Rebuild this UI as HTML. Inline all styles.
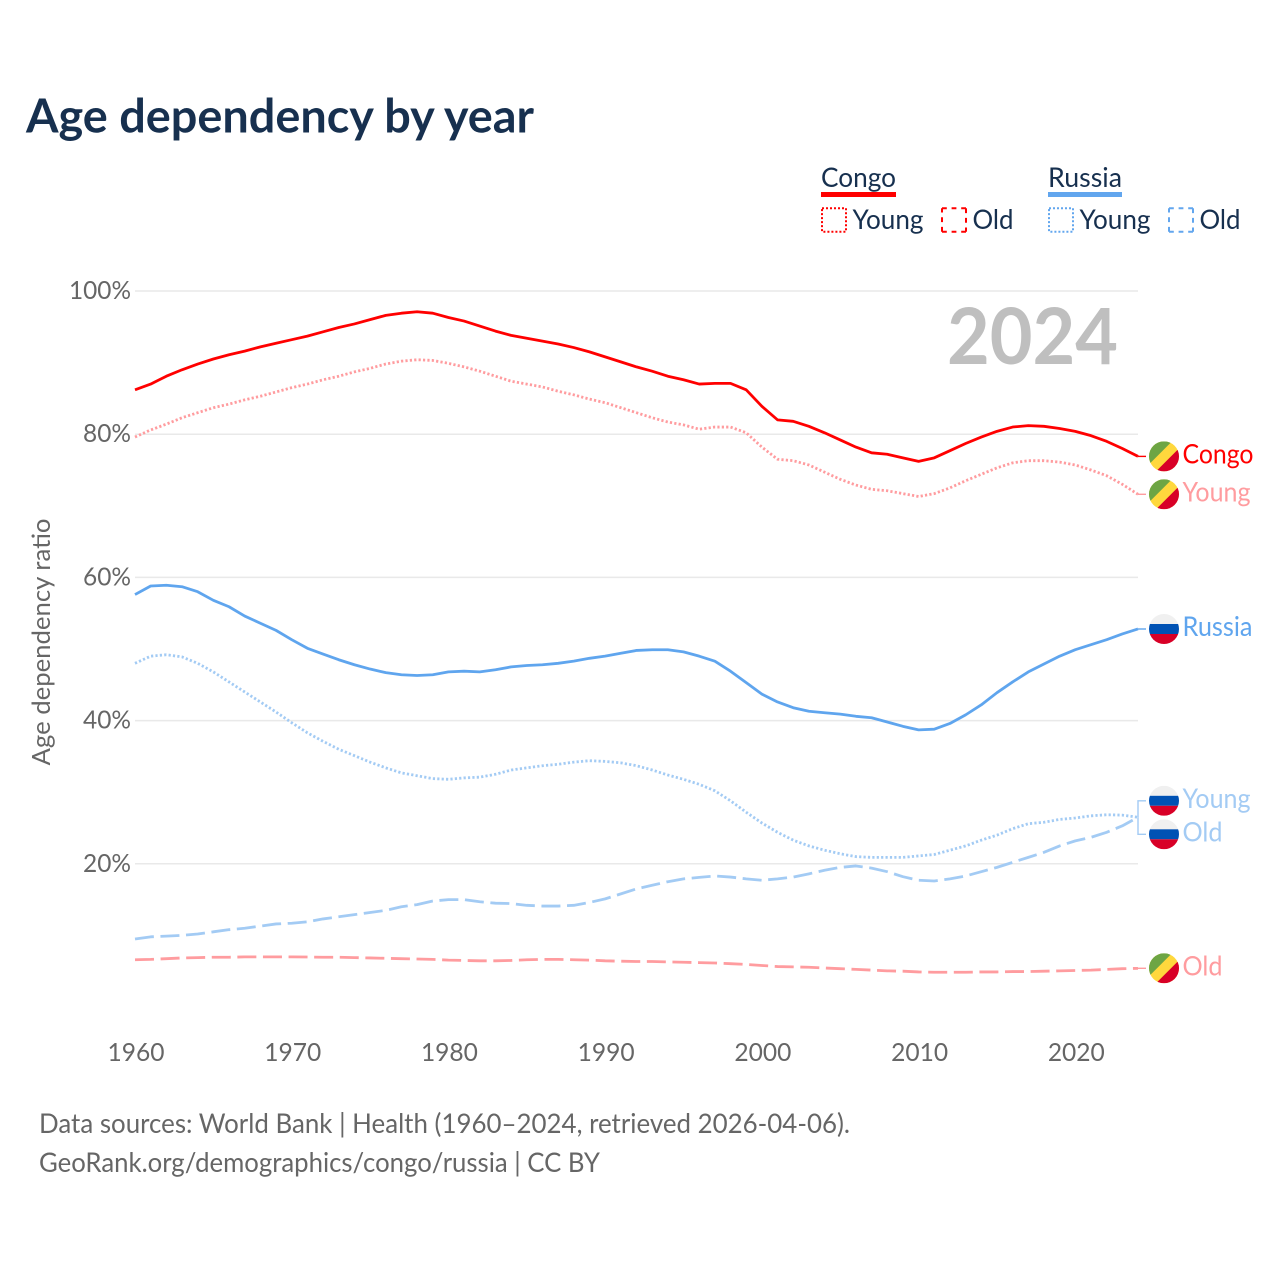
<!DOCTYPE html>
<html lang="en">
<head>
<meta charset="utf-8">
<title>Age dependency by year</title>
<style>
html,body{margin:0;padding:0;background:#fff;width:1280px;height:1280px;overflow:hidden}
svg{display:block}
text{font-family:"Lato","Carlito","Liberation Sans",sans-serif}
</style>
</head>
<body>
<svg id="chart" xmlns="http://www.w3.org/2000/svg" width="1280" height="1280" viewBox="0 0 1280 1280">
  <defs>
    <clipPath id="flag-clip"><circle cx="0" cy="0" r="15"/></clipPath>
    <g id="flag-cg" clip-path="url(#flag-clip)">
      <rect x="-15" y="-15" width="30" height="30" fill="#ffd83d"/>
      <polygon points="-15,-15 8,-15 -15,8" fill="#6da544"/>
      <polygon points="15,15 -8,15 15,-8" fill="#d80027"/>
    </g>
    <g id="flag-ru" clip-path="url(#flag-clip)">
      <rect x="-15" y="-15" width="30" height="10" fill="#f0f0f0"/>
      <rect x="-15" y="-5" width="30" height="10" fill="#0052b4"/>
      <rect x="-15" y="5" width="30" height="10" fill="#d80027"/>
    </g>
  </defs>

  <text x="26" y="132.3" font-size="47" font-weight="700" fill="#17304f" textLength="508" lengthAdjust="spacingAndGlyphs">Age dependency by year</text>

  <g>
    <text x="821" y="187" font-size="27" fill="#17304f" textLength="75" lengthAdjust="spacingAndGlyphs">Congo</text>
    <rect x="821" y="192" width="75" height="5" fill="#ff0000"/>
    <rect x="822" y="208.3" width="24" height="23.4" fill="none" stroke="#ff0000" stroke-width="2" stroke-dasharray="2 2"/>
    <text x="852.5" y="229" font-size="27" fill="#17304f" textLength="71" lengthAdjust="spacingAndGlyphs">Young</text>
    <path d="M942 208.3h24 M966 208.3v23.4 M966 231.7h-24 M942 231.7v-23.4" fill="none" stroke="#ff0000" stroke-width="2" stroke-dasharray="4.8 4.8"/>
    <text x="972.5" y="229" font-size="27" fill="#17304f" textLength="41" lengthAdjust="spacingAndGlyphs">Old</text>

    <text x="1048" y="187" font-size="27" fill="#17304f" textLength="74" lengthAdjust="spacingAndGlyphs">Russia</text>
    <rect x="1048" y="192" width="74" height="5" fill="#62a6ee"/>
    <rect x="1049" y="208.3" width="24" height="23.4" fill="none" stroke="#62a6ee" stroke-width="2" stroke-dasharray="2 2"/>
    <text x="1079.5" y="229" font-size="27" fill="#17304f" textLength="71" lengthAdjust="spacingAndGlyphs">Young</text>
    <path d="M1169 208.3h24 M1193 208.3v23.4 M1193 231.7h-24 M1169 231.7v-23.4" fill="none" stroke="#62a6ee" stroke-width="2" stroke-dasharray="4.8 4.8"/>
    <text x="1199.5" y="229" font-size="27" fill="#17304f" textLength="41" lengthAdjust="spacingAndGlyphs">Old</text>
  </g>

  <text transform="translate(50,642) rotate(-90)" text-anchor="middle" font-size="25" fill="#666666" textLength="247" lengthAdjust="spacingAndGlyphs">Age dependency ratio</text>

  <g id="grid"></g>
  <text x="947" y="364" font-size="78" font-weight="700" fill="#bfbfbf" textLength="171" lengthAdjust="spacingAndGlyphs">2024</text>
  <g id="marks"></g>
  <g id="end-labels"></g>

  <text x="39" y="1133" font-size="27" fill="#666666" textLength="811" lengthAdjust="spacingAndGlyphs">Data sources: World Bank | Health (1960–2024, retrieved 2026-04-06).</text>
  <text x="39" y="1172" font-size="27" fill="#666666" textLength="561" lengthAdjust="spacingAndGlyphs">GeoRank.org/demographics/congo/russia | CC BY</text>
</svg>

<script>
const startYear = 1960;
const endYear = 2024;
const yTickValues = [20, 40, 60, 80, 100];
const yTickLabels = ['20%', '40%', '60%', '80%', '100%'];
const xTickYears = [1960, 1970, 1980, 1990, 2000, 2010, 2020];
const xTickLabels = ['1960', '1970', '1980', '1990', '2000', '2010', '2020'];

const congoTotal = [86.2,87.0,88.1,89.0,89.8,90.5,91.1,91.6,92.2,92.7,93.2,93.7,94.3,94.9,95.4,96.0,96.6,96.9,97.1,96.9,96.3,95.8,95.1,94.4,93.8,93.4,93.0,92.6,92.1,91.5,90.8,90.1,89.4,88.8,88.1,87.6,87.0,87.1,87.1,86.2,83.9,82.0,81.8,81.1,80.2,79.2,78.2,77.4,77.2,76.7,76.2,76.7,77.7,78.7,79.6,80.4,81.0,81.2,81.1,80.8,80.4,79.8,79.0,78.0,76.9];
const congoYoung = [79.6,80.6,81.4,82.3,83.0,83.7,84.2,84.8,85.3,85.9,86.5,87.0,87.6,88.1,88.7,89.2,89.8,90.2,90.4,90.3,89.9,89.4,88.8,88.1,87.4,87.0,86.6,86.0,85.5,84.9,84.4,83.7,83.0,82.3,81.7,81.3,80.7,81.0,81.0,80.2,78.2,76.5,76.3,75.7,74.7,73.7,72.9,72.3,72.1,71.7,71.3,71.7,72.5,73.5,74.4,75.3,76.0,76.3,76.3,76.1,75.7,75.0,74.2,73.0,71.6];
const congoOld = [6.6,6.65,6.75,6.85,6.9,6.95,6.95,7.0,7.0,7.0,7.0,6.98,6.95,6.95,6.9,6.85,6.8,6.75,6.7,6.65,6.55,6.5,6.45,6.45,6.5,6.6,6.65,6.65,6.6,6.55,6.45,6.4,6.35,6.35,6.3,6.25,6.2,6.15,6.05,5.95,5.8,5.65,5.6,5.55,5.45,5.35,5.25,5.15,5.05,5.0,4.9,4.85,4.85,4.85,4.9,4.9,4.95,4.95,5.0,5.05,5.1,5.15,5.25,5.35,5.4];
const russiaTotal = [57.6,58.8,58.9,58.7,58.0,56.8,55.9,54.6,53.6,52.6,51.3,50.1,49.3,48.5,47.8,47.2,46.7,46.4,46.3,46.4,46.8,46.9,46.8,47.1,47.5,47.7,47.8,48.0,48.3,48.7,49.0,49.4,49.8,49.9,49.9,49.6,49.0,48.3,46.9,45.3,43.7,42.6,41.8,41.3,41.1,40.9,40.6,40.4,39.8,39.2,38.7,38.8,39.6,40.8,42.2,43.9,45.4,46.8,47.9,49.0,49.9,50.6,51.3,52.1,52.8];
const russiaYoung = [48.0,49.0,49.2,48.9,48.0,46.8,45.4,44.0,42.6,41.2,39.7,38.3,37.1,36.0,35.1,34.2,33.4,32.7,32.3,31.9,31.8,32.0,32.1,32.5,33.1,33.4,33.7,33.9,34.2,34.4,34.3,34.1,33.7,33.1,32.4,31.8,31.1,30.2,28.8,27.2,25.7,24.4,23.3,22.5,21.9,21.4,21.0,20.9,20.9,20.9,21.1,21.3,21.9,22.5,23.3,24.0,24.9,25.6,25.8,26.2,26.4,26.7,26.85,26.8,26.5];
const russiaOld = [9.5,9.8,9.9,10.0,10.2,10.5,10.8,11.0,11.3,11.6,11.7,11.9,12.3,12.6,12.9,13.2,13.5,14.0,14.3,14.8,15.0,15.0,14.7,14.5,14.45,14.2,14.1,14.1,14.2,14.6,15.1,15.8,16.5,17.0,17.5,17.9,18.1,18.3,18.15,17.9,17.7,17.9,18.15,18.6,19.1,19.5,19.7,19.4,18.9,18.2,17.7,17.6,17.9,18.3,18.9,19.5,20.2,20.9,21.6,22.5,23.2,23.7,24.4,25.3,26.5];

const SVG_NS = 'http://www.w3.org/2000/svg';
const grid = document.getElementById('grid');
const marks = document.getElementById('marks');
const endLabels = document.getElementById('end-labels');

function xScale(year) { return 135 + (year - startYear) * (1138 - 135) / (endYear - startYear); }
function yScale(v) { return 1007 - v * 7.16; }

function make(parent, tag, attrs, content) {
  const el = document.createElementNS(SVG_NS, tag);
  for (const k in attrs) el.setAttribute(k, attrs[k]);
  if (content !== undefined) el.textContent = content;
  parent.appendChild(el);
  return el;
}

yTickValues.forEach(function (v, i) {
  const line = make(grid, 'line', { x1: 135, x2: 1138, y1: yScale(v), y2: yScale(v), stroke: '#e9e9e9', 'stroke-width': 1.5 });
  
  
  const label = make(grid, 'text', { x: 131, y: yScale(v) + 8, 'text-anchor': 'end', 'font-size': 25.5, fill: '#666666', textLength: yTickLabels[i].length === 4 ? 62 : 48, lengthAdjust: 'spacingAndGlyphs' }, yTickLabels[i]);
  
  
});

xTickYears.forEach(function (yr, i) {
  const label = make(grid, 'text', { x: xScale(yr) + 1, y: 1061, 'text-anchor': 'middle', 'font-size': 25.5, fill: '#666666', textLength: 57, lengthAdjust: 'spacingAndGlyphs' }, xTickLabels[i]);
  
  
});

function linePath(values) {
  return values.map(function (v, i) {
    return (i ? 'L' : 'M') + xScale(startYear + i).toFixed(2) + ' ' + yScale(v).toFixed(2);
  }).join(' ');
}

function drawLine(values, color, dash) {
  const p = make(marks, 'path', { d: linePath(values), fill: 'none', stroke: color, 'stroke-width': 2.8, 'stroke-linejoin': 'round' });
  if (dash) p.setAttribute('stroke-dasharray', dash);
  return p;
}

const RED = '#ff0000', RED_LIGHT = '#ff9c9f', BLUE = '#5fa5ee', BLUE_LIGHT = '#a3cbf4';
const DOT = '2.2 2.2', DASH = '19 6.6';

const s1 = drawLine(congoOld, RED_LIGHT, DASH);


const s2 = drawLine(russiaOld, BLUE_LIGHT, DASH);


const s3 = drawLine(russiaYoung, BLUE_LIGHT, DOT);


const s4 = drawLine(congoYoung, RED_LIGHT, DOT);


const s5 = drawLine(russiaTotal, BLUE);


const s6 = drawLine(congoTotal, RED);



function last(a) { return a[a.length - 1]; }

function drawEnd(values, color, flag, text, width, shift) {
  const y0 = yScale(last(values));
  const y1 = y0 + shift;
  const g = make(endLabels, 'g', {});
  const leader = make(g, 'path', { d: 'M1138 ' + y0.toFixed(1) + ' L1138 ' + y1.toFixed(1) + ' L1146 ' + y1.toFixed(1), fill: 'none', stroke: color, 'stroke-width': 1.4 });
  
  
  const icon = make(g, 'use', { href: '#' + flag, transform: 'translate(1164,' + y1.toFixed(1) + ')' });
  
  
  const label = make(g, 'text', { x: 1182.5, y: (y1 + 7).toFixed(1), 'font-size': 27, fill: color, textLength: width, lengthAdjust: 'spacingAndGlyphs' }, text);
  
  
  return g;
}

drawEnd(congoTotal, RED, 'flag-cg', 'Congo', 71, 0);
drawEnd(congoYoung, RED_LIGHT, 'flag-cg', 'Young', 68, 0);
drawEnd(congoOld, RED_LIGHT, 'flag-cg', 'Old', 40, 0);
drawEnd(russiaTotal, BLUE, 'flag-ru', 'Russia', 70, 0);
drawEnd(russiaYoung, BLUE_LIGHT, 'flag-ru', 'Young', 68, -16.5);
drawEnd(russiaOld, BLUE_LIGHT, 'flag-ru', 'Old', 40, 17);
</script>
</body>
</html>
